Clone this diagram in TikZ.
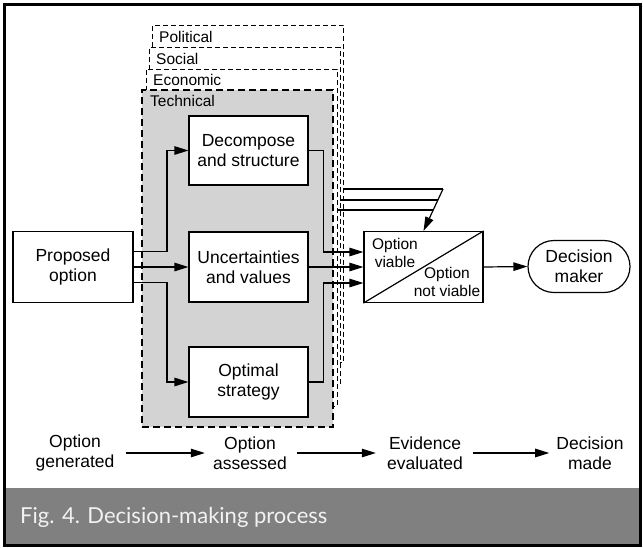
\documentclass[tikz,border=0pt]{standalone}
\usepackage{fontspec}
\setmainfont{Liberation Sans}
\newfontfamily\capfont{Lato}
\usetikzlibrary{arrows.meta,shapes.misc,calc}
\definecolor{techgray}{RGB}{211,211,211}
\definecolor{bandgray}{RGB}{128,128,128}
\definecolor{captext}{RGB}{242,242,242}
\begin{document}
\begin{tikzpicture}[x=1pt,y=-1pt,
  mainfont/.style={font=\fontsize{17.5}{20}\selectfont},
  smallfont/.style={font=\fontsize{15.5}{18}\selectfont},
  procbox/.style={draw, line width=1.2pt, fill=white, align=center, inner sep=0pt,
    minimum width=119pt, minimum height=70pt, mainfont},
  layerbox/.style={draw, dashed, dash pattern=on 5pt off 3pt, line width=0.9pt, fill=white,
    minimum width=191pt, minimum height=337pt, inner sep=0pt},
  techbox/.style={draw, dash pattern=on 7pt off 4pt, line width=1.8pt, fill=techgray,
    minimum width=191pt, minimum height=337pt, inner sep=0pt},
  layerlabel/.style={anchor=west, inner sep=0pt, smallfont},
  arr/.style={line width=1.2pt, -{Triangle[length=14pt,width=8.5pt]}},
  plain/.style={line width=1.2pt},
  steplabel/.style={align=center, inner sep=0pt, mainfont}
]
\useasboundingbox (0,0) rectangle (643,547);
% caption band and frame
\fill[bandgray] (4,488) rectangle (640,545);
\draw[line width=3pt] (4,4) rectangle (640,545);
\node[anchor=west, text=captext, inner sep=0pt, font=\capfont\fontsize{22}{26}\selectfont] (cap) at (20,517) {Fig. 4. Decision-making process};

% stacked layers
\node[layerbox] (pol) at (248,193.5) {};
\node[layerbox] (soc) at (244.5,216) {};
\node[layerbox] (eco) at (241.5,237.5) {};
\node[techbox] (tech) at (237.5,258.5) {};
\node[layerlabel] (polL) at (159,37) {Political};
\node[layerlabel] (socL) at (156,59) {Social};
\node[layerlabel] (ecoL) at (153,80) {Economic};
\node[layerlabel] (techL) at (150,101) {Technical};

% process boxes
\node[procbox, minimum height=69pt] (dec) at (248.5,150.5) {Decompose\\and structure};
\node[procbox] (unc) at (248.5,267) {Uncertainties\\and values};
\node[procbox] (opt) at (248.5,382) {Optimal\\strategy};
\node[procbox, minimum width=120pt, minimum height=71pt] (prop) at (73,267) {Proposed\\option};
\node[draw, line width=1.2pt, minimum width=119pt, minimum height=71pt, inner sep=0pt] (ov) at (423.5,267) {};
\draw[plain] (ov.south west) -- (ov.north east);
\node[smallfont, align=center, inner sep=0pt] (ovA) at (395,253) {Option\\viable};
\node[smallfont, align=center, inner sep=0pt] (ovB) at (447,282) {Option\\not viable};
\node[draw, line width=1.2pt, rounded rectangle, minimum width=102pt, minimum height=52pt, inner sep=0pt, align=center, mainfont] (dm) at (579,266.5) {Decision\\maker};

% connectors
\coordinate (j1) at (167,0);
\coordinate (j2) at (323.5,0);
\coordinate (pA) at ([yshift=15.5pt]prop.east);
\coordinate (pC) at ([yshift=-15.5pt]prop.east);
\coordinate (oA) at ([yshift=15pt]ov.west);
\coordinate (oC) at ([yshift=-16pt]ov.west);
\draw[arr] (pA) -| (j1 |- dec.west) -- (dec.west);
\draw[arr] (prop.east) -- (unc.west);
\draw[arr] (pC) -| (j1 |- opt.west) -- (opt.west);
\draw[arr] (dec.east) -| (j2 |- oA) -- (oA);
\draw[arr] (unc.east) -- (ov.west);
\draw[arr] (opt.east) -| (j2 |- oC) -- (oC);

\coordinate (t1) at (443,189);
\coordinate (t2) at (437.9,200);
\coordinate (t3) at (433.3,210);
\draw[plain] (pol.east |- t1) -- (t1);
\draw[plain] (soc.east |- t2) -- (t2);
\draw[plain] (eco.east |- t3) -- (t3);
\draw[arr] (t1) -- (ov.north);
\draw[arr] (ov.east) -- (dm.west);

% bottom process row
\node[steplabel] (s1) at (75,453) {Option\\generated};
\node[steplabel] (s2) at (250,453) {Option\\assessed};
\node[steplabel] (s3) at (425,453) {Evidence\\evaluated};
\node[steplabel] (s4) at (590,453) {Decision\\made};
\draw[arr, shorten <=11pt, shorten >=8pt] (s1) -- (s2);
\draw[arr, shorten <=10pt, shorten >=11pt] (s2) -- (s3);
\draw[arr, shorten <=10pt, shorten >=7pt] (s3) -- (s4);
\end{tikzpicture}
\end{document}
